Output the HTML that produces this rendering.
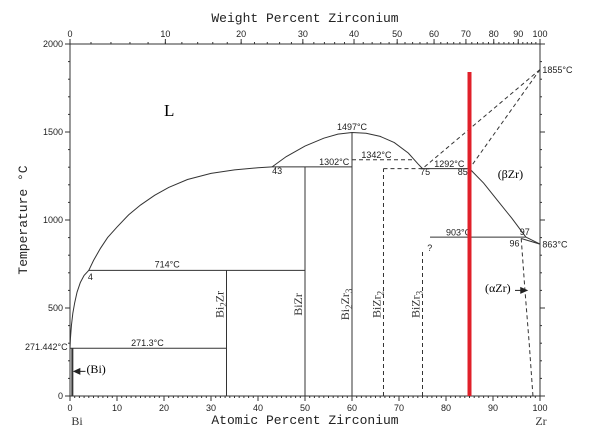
<!DOCTYPE html>
<html><head><meta charset="utf-8">
<style>
body{margin:0;background:#fff;}
svg{display:block;font-family:"Liberation Serif",serif;}
.t{font-family:"Liberation Sans",sans-serif;font-size:9px;fill:#222;}
.ax{font-family:"Liberation Mono",monospace;font-size:13px;fill:#222;}
</style></head>
<body>
<svg id="c" width="600" height="444" viewBox="0 0 600 444">
<rect x="0" y="0" width="600" height="444" fill="#fff"/>
<g id="g"></g>
</svg>
<script>
const atTicks=[0,10,20,30,40,50,60,70,80,90,100];
const wtTicks=[0,10,20,30,40,50,60,70,80,90,100];
const tempTicks=[0,500,1000,1500,2000];
const liquidusLeft=[[0,271.4],[0.1,330],[0.3,400],[0.6,470],[1,530],[1.5,590],[2.2,645],[3,685],[4,714],[5,770],[6.5,840],[8,900],[10,960],[12.5,1030],[15,1085],[18,1140],[21,1185],[25,1230],[30,1265],[35,1285],[40,1297],[43,1302]];
const dome=[[43,1302],[46,1360],[50,1420],[54,1465],[57,1488],[60,1497],[63,1493],[66,1475],[69,1440],[72,1380],[74,1320],[75,1292]];
const betaSolvus=[[85,1292],[88,1210],[91,1110],[94,1010],[97,903]];
const alphaSolvus=[[96,895],[96.8,600],[97.7,300],[98.5,0]];
const X=a=>70+a*4.7, Y=t=>396-t*0.176;
const W=w=>{const a=(w/91.224)/((w/91.224)+(100-w)/208.98);return X(a*100);};
const g=document.getElementById('g');
function el(tag,attrs,name,text){const e=document.createElementNS('http://www.w3.org/2000/svg',tag);for(const k in attrs)e.setAttribute(k,attrs[k]);


if(text!==undefined)e.textContent=text;g.appendChild(e);return e;}
function line(a1,t1,a2,t2,name,dash,sw){return el('line',{x1:X(a1),y1:Y(t1),x2:X(a2),y2:Y(t2),stroke:'#333','stroke-width':sw||1,'stroke-dasharray':dash?'4,3':'none'},name);}
function poly(pts,name,dash){return el('polyline',{points:pts.map(p=>X(p[0])+','+Y(p[1])).join(' '),fill:'none',stroke:'#333','stroke-width':1,'stroke-dasharray':dash?'4,3':'none'},name);}
el('rect',{x:70,y:44,width:470,height:352,fill:'none',stroke:'#333','stroke-width':1},'plot-frame');
for(let a=0;a<=100;a++){const m=a%10==0;el('line',{x1:X(a),y1:396,x2:X(a),y2:m?401:398,stroke:'#333'},'x-tick');}
atTicks.forEach(a=>el('text',{x:X(a),y:411,'text-anchor':'middle',class:'t'},'x-tick-label',a));
for(let w=0;w<100;w+=2){el('line',{x1:W(w),y1:44,x2:W(w),y2:42,stroke:'#333'},'top-minor-tick');}
wtTicks.forEach(w=>{el('line',{x1:W(w),y1:44,x2:W(w),y2:39,stroke:'#333'},'top-tick');el('text',{x:W(w),y:37,'text-anchor':'middle',class:'t'},'top-tick-label',w);});
for(let t=0;t<=2000;t+=100){const m=t%500==0;el('line',{x1:70,y1:Y(t),x2:m?65:68,y2:Y(t),stroke:'#333'},'y-tick');el('line',{x1:540,y1:Y(t),x2:m?545:542,y2:Y(t),stroke:'#333'},'y-tick-right');}
tempTicks.forEach(t=>el('text',{x:63,y:Y(t)+3,'text-anchor':'end',class:'t'},'y-tick-label',t));
el('text',{x:305,y:22,'text-anchor':'middle',class:'ax'},'top-axis-title','Weight Percent Zirconium');
el('text',{x:305,y:424,'text-anchor':'middle',class:'ax'},'x-axis-title','Atomic Percent Zirconium');
el('text',{x:0,y:0,'text-anchor':'middle',class:'ax',transform:'translate(27,220) rotate(-90)'},'y-axis-title','Temperature °C');
el('text',{x:77,y:425,'text-anchor':'middle','font-size':12,fill:'#333'},'bi-label','Bi');
el('text',{x:541,y:425,'text-anchor':'middle','font-size':12,fill:'#333'},'zr-label','Zr');
poly(liquidusLeft,'liquidus-left');
poly(dome,'bi2zr3-liquidus');
poly(betaSolvus,'beta-zr-solvus');
poly(alphaSolvus,'alpha-zr-solvus',true);
line(97,903,100,863,'beta-boundary');line(96,895,100,863,'alpha-boundary');
line(0,271.3,33.3,271.3,'eutectic-271');
line(4,714,50,714,'peritectic-714');
line(43,1302,60,1302,'peritectic-1302');
line(75,1292,85,1292,'eutectoid-1292');
line(76.6,903,97,903,'line-903');
line(60,1342,73,1342,'line-1342',true);
line(66.7,1292,75,1292,'line-1292-dashed',true);
line(33.3,0,33.3,714,'bi2zr-line');
line(50,0,50,1302,'bizr-line');
line(60,0,60,1497,'bi2zr3-line');
line(66.7,0,66.7,1292,'bizr2-line',true);
line(75,0,75,820,'bizr3-line',true);
line(100,1855,75,1292,'dashed-liquidus',true);
line(100,1855,85,1292,'dashed-solidus',true);
line(0.5,0,0.5,271,'bi-solvus',false,2);
const lab=(a,t,s,name,fs,anchor)=>el('text',{x:X(a),y:Y(t),class:'t','font-size':fs||9,'text-anchor':anchor||'start'},name,s);
lab(43,1260,'43','label-43');lab(3.8,660,'4','label-4');
lab(18,730,'714°C','label-714');lab(13,285,'271.3°C','label-271');
lab(60,1510,'1497°C','label-1497',9,'middle');lab(53,1312,'1302°C','label-1302');
lab(62,1352,'1342°C','label-1342');lab(77.5,1302,'1292°C','label-1292');
lab(74.5,1255,'75','label-75');lab(82.5,1255,'85','label-85');
lab(80,912,'903°C','label-903');lab(95.7,915,'97','label-97');lab(93.5,850,'96','label-96');
lab(100.5,1835,'1855°C','label-1855');lab(100.5,843,'863°C','label-863');
lab(-0.5,260,'271.442°C','label-271442',9,'end');lab(76,825,'?','label-question');
// compound labels (rotated)
const comp=(a,html,name)=>{const e=el('text',{x:0,y:0,'font-size':12,fill:'#333','text-anchor':'middle',transform:`translate(${X(a)-3},${Y(520)}) rotate(-90)`},name);e.innerHTML=html;};
comp(33.3,'Bi<tspan font-size="9" dy="3">2</tspan><tspan dy="-3">Zr</tspan>','bi2zr-label');
comp(50,'BiZr','bizr-label');
comp(60,'Bi<tspan font-size="9" dy="3">2</tspan><tspan dy="-3">Zr</tspan><tspan font-size="9" dy="3">3</tspan>','bi2zr3-label');
comp(66.7,'BiZr<tspan font-size="9" dy="3">2</tspan>','bizr2-label');
comp(75,'BiZr<tspan font-size="9" dy="3">3</tspan>','bizr3-label');
el('text',{x:X(20),y:Y(1590),'font-size':17},'liquid-label','L');
el('text',{x:X(91),y:Y(1240),'font-size':12},'beta-zr-label','(βZr)');
el('text',{x:485,y:Y(590),'font-size':12},'alpha-zr-label','(αZr)');
el('line',{x1:515,y1:Y(600),x2:X(96.5),y2:Y(600),stroke:'#222'},'alpha-arrow');
el('polygon',{points:`${X(97.5)},${Y(600)} ${X(95.8)},${Y(620)} ${X(95.8)},${Y(580)}`,fill:'#222'},'alpha-arrow-head');
el('text',{x:X(3.5),y:Y(130),'font-size':12},'bi-phase-label','(Bi)');
el('line',{x1:X(3.3),y1:Y(140),x2:X(1),y2:Y(140),stroke:'#222'},'bi-arrow');
el('polygon',{points:`${X(0.6)},${Y(140)} ${X(2.2)},${Y(160)} ${X(2.2)},${Y(120)}`,fill:'#222'},'bi-arrow-head');
el('line',{x1:X(85),y1:72,x2:X(85),y2:396,stroke:'#e0202a','stroke-width':4},'composition-marker');
</script>
</body></html>
